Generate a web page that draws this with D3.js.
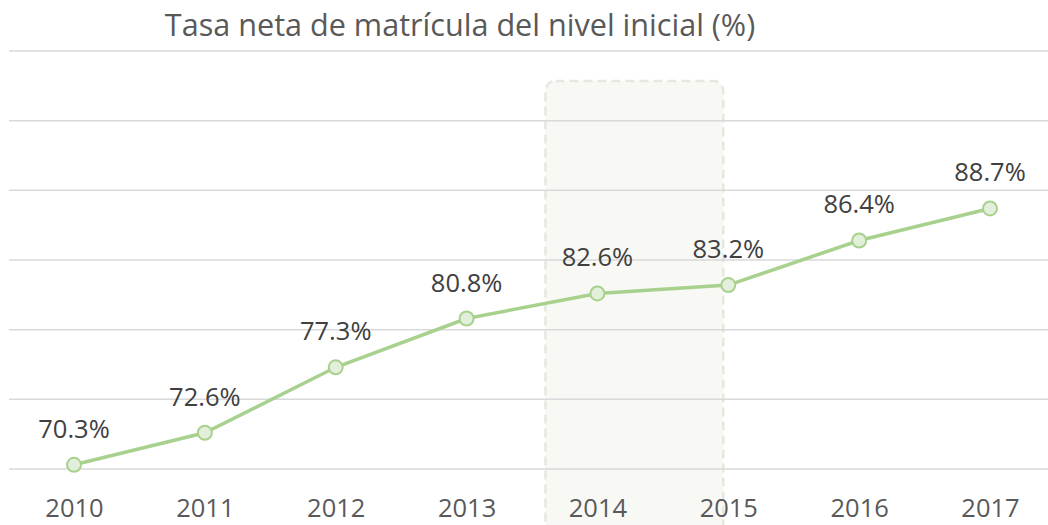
<!DOCTYPE html>
<html><head><meta charset="utf-8">
<script src="https://cdn.jsdelivr.net/npm/d3@7"></script>
<style>body{margin:0;background:#fff}svg{display:block}text{font-family:"Open Sans","Noto Sans",sans-serif}</style>
</head><body><svg id="c" width="1048" height="525"></svg>
<script>
const years = ["2010","2011","2012","2013","2014","2015","2016","2017"];
const values = [70.3,72.6,77.3,80.8,82.6,83.2,86.4,88.7];
const yTicks = [70,75,80,85,90,95,100];
const highlightYears = ["2014","2015"];
const title = "Tasa neta de matrícula del nivel inicial (%)";

const svg = d3.select("#c");
const x = d3.scalePoint().domain(years).range([74,990]);
const y = d3.scaleLinear().domain([70,100]).range([469,51]);

// highlight box
const hx0 = x(highlightYears[0]) - 52, hx1 = x(highlightYears[1]) - 5;
svg.append("rect").attr("x",hx0).attr("y",81).attr("width",hx1-hx0).attr("height",460)
  .attr("rx",10).attr("fill","#f8f8f5").attr("stroke","#e6e9df").attr("stroke-width",2.5)
  .attr("stroke-dasharray","9,5");

// gridlines
svg.append("g").selectAll("line").data(yTicks).join("line")
  .attr("x1",9).attr("x2",1048).attr("y1",d=>y(d)).attr("y2",d=>y(d))
  .attr("stroke","#d9d9d9").attr("stroke-width",1.5);

// x axis labels
const xAxis = d3.axisBottom(x).tickSize(0).tickPadding(0);
const gx = svg.append("g").attr("transform","translate(0,499)").call(xAxis);
gx.select(".domain").remove();
gx.selectAll("text").attr("font-size",25.5).attr("fill","#595959").attr("dy","0.71em")
  .style("font-family",'"Open Sans","Noto Sans",sans-serif');

// line
const pts = years.map((yr,i)=>({yr,v:values[i]}));
svg.append("path").datum(pts).attr("fill","none").attr("stroke","#a9d18e").attr("stroke-width",3.5)
  .attr("d",d3.line().x(d=>x(d.yr)).y(d=>y(d.v)));
svg.append("g").selectAll("circle").data(pts).join("circle")
  .attr("cx",d=>x(d.yr)).attr("cy",d=>y(d.v)).attr("r",7)
  .attr("fill","#e2efda").attr("stroke","#a9d18e").attr("stroke-width",2);

// labels
svg.append("g").selectAll("text").data(pts).join("text")
  .attr("x",d=>x(d.yr)).attr("y",d=>y(d.v)-27).attr("text-anchor","middle")
  .attr("font-size",25.5).attr("fill","#404040").text(d=>d.v.toFixed(1)+"%");

svg.append("text").attr("x",460).attr("y",36).attr("text-anchor","middle")
  .attr("font-size",30.6).attr("fill","#595959").text(title);
</script></body></html>
